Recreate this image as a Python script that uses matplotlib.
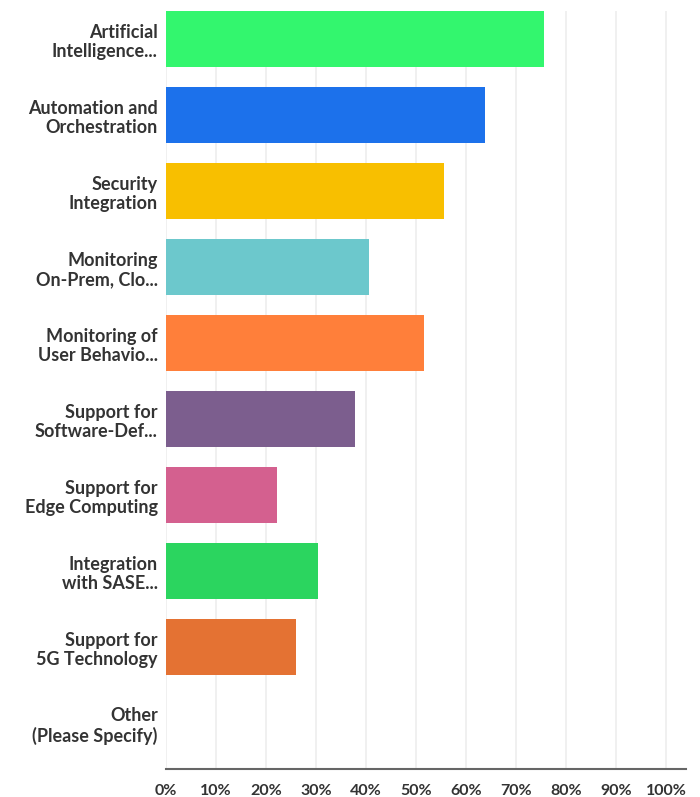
import matplotlib
matplotlib.use("Agg")
import matplotlib.pyplot as plt
from matplotlib.ticker import FuncFormatter

# answers (top to bottom) and share of respondents, in percent
categories = [
    "Artificial\nIntelligence...",
    "Automation and\nOrchestration",
    "Security\nIntegration",
    "Monitoring\nOn-Prem, Clo...",
    "Monitoring of\nUser Behavio...",
    "Support for\nSoftware-Def...",
    "Support for\nEdge Computing",
    "Integration\nwith SASE...",
    "Support for\n5G Technology",
    "Other\n(Please Specify)",
]
values = [75.6, 63.8, 55.6, 40.6, 51.6, 37.8, 22.2, 30.4, 26.0, 0.0]
bar_colors = ["#33f66e", "#1c71eb", "#f8bf00", "#6cc8cc", "#ff7f3a",
              "#7c5e8e", "#d4608f", "#2bd55f", "#e47233", "#999999"]
xticks = [0, 10, 20, 30, 40, 50, 60, 70, 80, 90, 100]

plt.rcParams['font.family'] = ['Lato', 'DejaVu Sans']

fig = plt.figure(figsize=(7.0, 7.97), dpi=100)
ax = fig.add_axes([166/700, 1 - 769/797, (686 - 166)/700, (769 - 11)/797])

ypos = list(range(len(categories)))
ax.barh(ypos, values, height=0.737, color=bar_colors, zorder=3)

ax.set_xlim(0, 104)
ax.set_ylim(9.605, -0.3685)
ax.set_xticks(xticks)
ax.xaxis.set_major_formatter(FuncFormatter(lambda v, p: f"{v:.0f}%"))
ax.set_yticks(ypos)
ax.set_yticklabels(categories, linespacing=1.2)

ax.grid(axis='x', color='#ededed', linewidth=1.2, zorder=0)
ax.grid(axis='y', visible=False)
for side in ['top', 'right', 'left']:
    ax.spines[side].set_visible(False)
ax.spines['bottom'].set_color('#666666')
ax.spines['bottom'].set_linewidth(1.5)

ax.tick_params(axis='x', length=0, pad=11, labelsize=11.5, labelcolor='#333333')
ax.tick_params(axis='y', length=0, pad=6, labelsize=13, labelcolor='#333333')
for lab in ax.get_xticklabels() + ax.get_yticklabels():
    lab.set_fontweight('bold')

plt.savefig("out.png", dpi=100)
